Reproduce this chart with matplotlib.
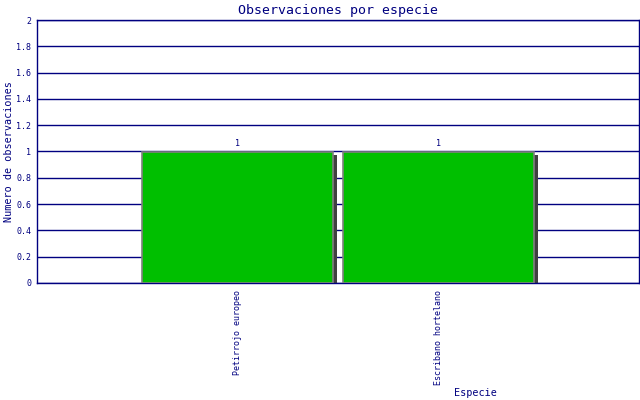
import matplotlib
matplotlib.use('Agg')
import matplotlib.pyplot as plt
import matplotlib.ticker as ticker

# data
especies = ["Petirrojo europeo", "Escribano hortelano"]
observaciones = [1, 1]

navy = "#000080"
plt.rcParams['font.family'] = ['DejaVu Sans Mono']

fig = plt.figure(figsize=(6.4, 4.0), dpi=100)
ax = fig.add_axes([37/640, 117/400, 602/640, 263/400])

x = list(range(len(especies)))
width = 0.95

# drop shadow behind the bars
ax.bar([i + 0.02 for i in x], [v - 0.023 for v in observaciones], width=width,
       color="#404040", linewidth=0, zorder=2)
ax.bar(x, observaciones, width=width, color="#00bf00", edgecolor="#808080",
       linewidth=1.2, zorder=3)

for i, v in zip(x, observaciones):
    ax.text(i, v + 0.025, "%d" % v, ha="center", va="bottom", fontsize=6, color=navy)

ax.set_xlim(-1, 2)
ax.set_ylim(0, 2)
ax.yaxis.set_major_locator(ticker.MultipleLocator(0.2))
ax.yaxis.set_major_formatter(ticker.FuncFormatter(lambda v, p: "%g" % round(v, 1)))
ax.set_xticks(x)
ax.set_xticklabels(especies, rotation=90, fontsize=6, color=navy)
ax.tick_params(axis="both", length=0, labelsize=6, labelcolor=navy)
ax.tick_params(axis="x", pad=5)
ax.tick_params(axis="y", pad=4)
ax.grid(axis="y", color=navy, linewidth=1, zorder=1)
ax.set_axisbelow(True)
for s in ax.spines.values():
    s.set_color(navy)
    s.set_linewidth(1)

ax.set_title("Observaciones por especie", fontsize=9.5, color=navy, pad=4)
ax.set_ylabel("Numero de observaciones", fontsize=7.3, color=navy)
ax.yaxis.set_label_coords(-0.038, 0.5)
ax.set_xlabel("Especie", fontsize=7.3, color=navy)
ax.xaxis.set_label_coords(0.729, -0.40)

plt.savefig("out.png", dpi=100)
